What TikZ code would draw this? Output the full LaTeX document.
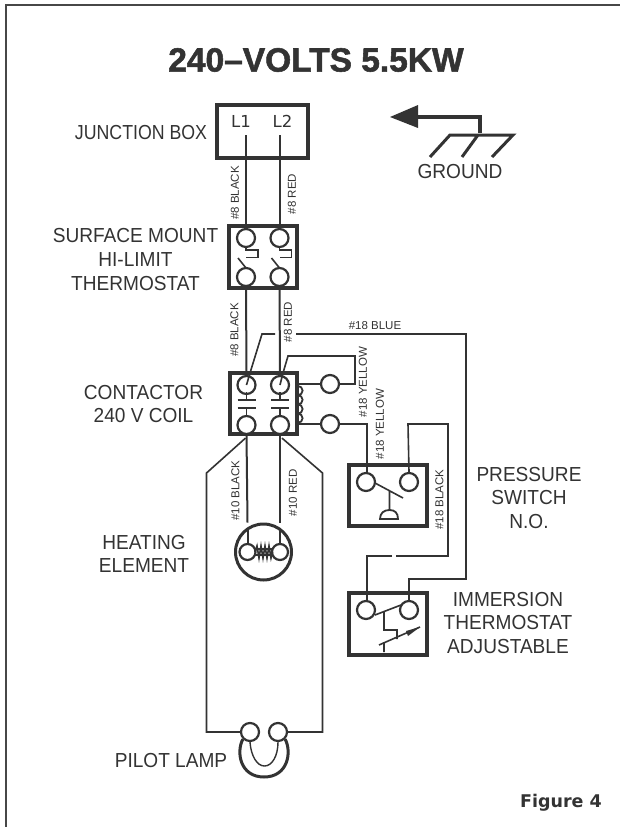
\documentclass[tikz,border=0pt]{standalone}
\usepackage{fontspec}
\setmainfont{Liberation Sans}
\newfontfamily\figfont{DejaVu Sans}
\newfontfamily\titlefont[FakeBold=1.6]{Liberation Sans Bold}
\definecolor{ink}{gray}{0.2}
\tikzset{
  wire/.style={draw=ink,line width=2pt},
  thin wire/.style={draw=ink,line width=1.6pt},
  boxb/.style={draw=ink,line width=3.6pt,fill=white,inner sep=0pt,minimum width=#1},
  term/.style={circle,draw=ink,line width=2.2pt,fill=white,inner sep=0pt,minimum size=18pt},
  lab/.style={text=ink,font=\fontsize{20.3}{23.6}\selectfont,inner sep=0pt,align=center,xscale=.94,transform shape},
  wl/.style={text=ink,font=\fontsize{11.5}{13}\selectfont,inner sep=0pt,rotate=90},
}
\begin{document}
\begin{tikzpicture}[x=1pt,y=-1pt]
\useasboundingbox (0,0) rectangle (620,827);
\fill[white] (0,0) rectangle (620,827);
% frame
\coordinate (fa) at (6,827); \coordinate (fb) at (6,5); \coordinate (fc) at (620,5);
\draw[draw=ink!90,line width=2.4pt] (fa)--(fb)--(fc);
% title
\node[text=ink,inner sep=0pt,font=\titlefont\fontsize{33.5}{36}\selectfont] (title) at (316,60) {240–VOLTS 5.5KW};
\node[text=ink,inner sep=0pt,font=\figfont\bfseries\fontsize{17.5}{20}\selectfont] (fig) at (561,803) {Figure 4};
% boxes
\node[boxb=91pt,minimum height=53pt] (jb) at (262.5,131.5) {};
\node[boxb=68pt,minimum height=62pt] (sm) at (263,257) {};
\node[boxb=67pt,minimum height=61pt] (ct) at (263.5,403.5) {};
\node[boxb=78pt,minimum height=61pt] (ps) at (388,495.5) {};
\node[boxb=78pt,minimum height=62pt] (im) at (388,624) {};
% labels in junction box
\node[text=ink,inner sep=0pt,font=\figfont\fontsize{16.5}{18}\selectfont] (l1) at (241,121.5) {L1};
\node[text=ink,inner sep=0pt,font=\figfont\fontsize{16.5}{18}\selectfont] (l2) at (282.5,121.5) {L2};
% terminals
\node[term] (s1) at (246,238) {}; \node[term] (s2) at (279.5,238) {};
\node[term] (s3) at (246,277) {}; \node[term] (s4) at (279.5,277) {};
\node[term] (c1) at (246.5,385) {}; \node[term] (c2) at (280,385) {};
\node[term] (c3) at (246.5,425) {}; \node[term] (c4) at (280,425) {};
\node[term] (y1) at (330,384) {}; \node[term] (y2) at (330,424) {};
\node[term] (p1) at (366,482) {}; \node[term] (p2) at (409,482) {};
\node[term] (i1) at (366,610) {}; \node[term] (i2) at (409,610) {};
\node[circle,draw=ink,line width=3pt,inner sep=0pt,minimum size=56pt] (he) at (263.5,552) {};
\node[term,minimum size=16pt] (h1) at (247.5,552) {}; \node[term,minimum size=16pt] (h2) at (280,552) {};
\node[term] (u1) at (250,732) {}; \node[term] (u2) at (278,732) {};
% main wires
\coordinate (j1) at (246,135); \coordinate (j2) at (279.5,135);
\draw[wire] (j1)--(s1.north); \draw[wire] (j2)--(s2.north);
\draw[wire] (s3.south)--(c1.north); \draw[wire] (s4.south)--(c2.north);
\draw[wire] (c3.south)--(h1.north|-he.north) ;
\draw[wire] (c4.south)--(h2.north|-he.north) ;
\coordinate (ha) at (247.5,530); \coordinate (hb) at (280,530);
\draw[wire] (ha)--(h1.north); \draw[wire] (hb)--(h2.north);
% pilot lamp wires
\coordinate (pa) at (206.5,473); \coordinate (pb) at (322.5,473);
\draw[thin wire] (c3.south) ++(-1,3) -- (pa) |- (u1.west);
\draw[thin wire] (c4.south) ++(2,3) -- (pb) |- (u2.east);
% lamp U
\draw[draw=ink,line width=3pt] (u1.south west) .. controls (236,752) and (240,777) .. (264,777) .. controls (288,777) and (292,752) .. (u2.south east);
\draw[draw=ink,line width=1.4pt] (u1.south) .. controls (251,756) and (257,766) .. (264.5,766) .. controls (272,766) and (278,756) .. (u2.south);
% blue wire
\coordinate (ba) at (250,373); \coordinate (bb) at (262,334); \coordinate (bc) at (275,334);
\coordinate (bd) at (296,334); \coordinate (be) at (466,334); \coordinate (bf) at (466,579); \coordinate (bg) at (409,579);
\draw[thin wire] (c1.center)--(ba)--(bb)--(bc);
\draw[thin wire] (bd)--(be)--(bf)--(bg)--(i2.north);
% yellow top
\coordinate (ya) at (283,373); \coordinate (yb) at (288,356); \coordinate (yc) at (355,356); \coordinate (yd) at (355,384);
\draw[thin wire] (c2.center)--(ya)--(yb)--(yc)--(yd)--(y1.east);
\draw[thin wire] (ct.east|-y1)--(y1.west);
\draw[thin wire] (ct.east|-y2)--(y2.west);
% yellow lower
\coordinate (ye) at (367,424);
\draw[thin wire] (y2.east)--(ye)--(p1.north-|ye);
% black 18
\coordinate (ka) at (408,424); \coordinate (kb) at (448,424); \coordinate (kc) at (448,556); \coordinate (kd) at (396,556);
\coordinate (ke) at (392,556); \coordinate (kf) at (367,556);
\draw[thin wire] (p2.north)--(ka)--(kb)--(kc)--(kd);
\draw[thin wire] (ke)--(kf)--(i1.north-|kf);
% contacts in contactor
\foreach \x/\n in {246.5/c1,280/c2}{
  \coordinate (a) at (\x-9,400); \coordinate (b) at (\x+9,400);
  \coordinate (d) at (\x-9,408); \coordinate (e) at (\x+9,408);
  \draw[thin wire] (\x,392)--(\x,400) (a)--(b) (d)--(e) (\x,408)--(\x,417);
}
% coil
\draw[draw=ink,line width=1.8pt] (298,386) arc (-90:90:4.6) arc (-90:90:4.6) arc (-90:90:4.6) arc (-90:90:4.6);
% hi-limit thermostat contacts
\foreach \x in {246,279.5}{
  \coordinate (q1) at (\x,247); \coordinate (q2) at (\x,250); \coordinate (q3) at (\x+12,250);
  \coordinate (q4) at (\x+12,257.5); \coordinate (q5) at (\x,257.5);
  \coordinate (q6) at (\x-8,258); \coordinate (q7) at (\x,268);
  \draw[thin wire] (q1)--(q2)--(q3)--(q4)--(q5);
  \draw[thin wire] (q6)--(q7);
}
% pressure switch mech
\coordinate (m1) at (375,483); \coordinate (m2) at (403,498); \coordinate (m3) at (389.5,491); \coordinate (m4) at (389.5,510);
\draw[thin wire] (m1)--(m2) (m3)--(m4);
\draw[draw=ink,line width=1.8pt] (380,519) .. controls (380,513) and (384,510) .. (389.5,510) .. controls (395,510) and (398,513) .. (398,519) -- cycle;
% immersion mech
\coordinate (n1) at (375,615); \coordinate (n2) at (401,605); \coordinate (n3) at (384,612); \coordinate (n4) at (384,630);
\coordinate (n5) at (397,630); \coordinate (n6) at (397,639); \coordinate (n7) at (379,645); \coordinate (n8) at (420,627); \coordinate (n9) at (384,642); \coordinate (n10) at (384,652);
\draw[thin wire] (n1)--(n2) (n3)--(n4)--(n5)--(n6) (n7)--(n8) (n9)--(n10);
\fill[ink] (n8)--(406,631)--(408,636)--cycle;
% element
\coordinate (z0) at (255,552); \coordinate (z9) at (272.5,552);
\draw[draw=ink,line width=1.6pt] (z0)--(257,546)--(259,558)--(261,546)--(263,558)--(265,546)--(267,558)--(269,546)--(271,558)--(z9);
\draw[draw=ink,line width=1.2pt] (256,549)--(272,549) (256,555)--(272,555);
% ground
\coordinate (g0) at (480,133); \coordinate (g1) at (480,117); \coordinate (g2) at (415,117);
\coordinate (ga) at (450,135); \coordinate (gb) at (513,135);
\coordinate (gc) at (430,157); \coordinate (gd) at (478,135); \coordinate (ge) at (462,157); \coordinate (gf) at (492,157);
\draw[draw=ink,line width=4pt] (g0)--(g1)--(g2);
\fill[ink] (390,117)--(418,105)--(418,128)--cycle;
\draw[draw=ink,line width=3pt] (gc)--(ga)--(gb)--(gf) (gd)--(ge);
% text labels
\node[lab,xscale=.93] (tjb) at (141,133) {JUNCTION BOX};
\node[lab] (tsm) at (135.5,259.5) {SURFACE MOUNT\\HI-LIMIT\\THERMOSTAT};
\node[lab] (tct) at (143.5,404) {CONTACTOR\\240 V COIL};
\node[lab] (the) at (144,554) {HEATING\\ELEMENT};
\node[lab] (tps) at (529,498) {PRESSURE\\SWITCH\\N.O.};
\node[lab] (tim) at (508,623) {IMMERSION\\THERMOSTAT\\ADJUSTABLE};
\node[lab] (tpl) at (171,761) {PILOT LAMP};
\node[lab] (tg) at (460,172) {GROUND};
% wire labels
\node[wl] (w1) at (235,193) {\#8 BLACK};
\node[wl] (w2) at (292,194) {\#8 RED};
\node[wl] (w3) at (234.5,330) {\#8 BLACK};
\node[wl] (w4) at (288,322) {\#8 RED};
\node[wl,rotate=-90] (w5) at (375,326) {\#18 BLUE};
\node[wl] (w6) at (363,382) {\#18 YELLOW};
\node[wl] (w7) at (380,424) {\#18 YELLOW};
\node[wl] (w8) at (439.5,499.5) {\#18 BLACK};
\node[wl] (w9) at (235.5,490.5) {\#10 BLACK};
\node[wl] (w10) at (293,493) {\#10 RED};
\end{tikzpicture}
\end{document}
